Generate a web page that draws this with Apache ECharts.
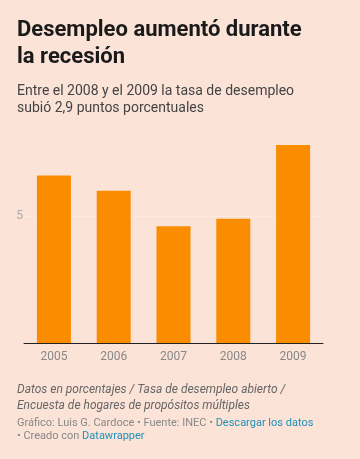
<!DOCTYPE html>
<html>
<head>
<meta charset="utf-8">
<script src="https://cdn.jsdelivr.net/npm/echarts@6/dist/echarts.min.js"></script>
<style>
html,body{margin:0;padding:0;background:#fce3d8;}
#c{width:360px;height:459px;}
</style>
</head>
<body>
<div id="c"></div>
<script>
const years = ['2005', '2006', '2007', '2008', '2009'];
const unemployment = [6.6, 6.0, 4.6, 4.9, 7.8];
const yTickLabels = [5];

const chart = echarts.init(document.getElementById('c'), null, {renderer: 'canvas'});
const FONT = 'Roboto, "Noto Sans", sans-serif';
chart.setOption({
  backgroundColor: '#fce3d8',
  animation: false,
  title: [
    {
      text: 'Desempleo aumentó durante\nla recesión',
      left: 17, top: 17, padding: 0,
      textStyle: {fontFamily: FONT, fontSize: 22, fontWeight: 'bold', color: '#1a1a1a', lineHeight: 27}
    },
    {
      text: 'Entre el 2008 y el 2009 la tasa de desempleo\nsubió 2,9 puntos porcentuales',
      left: 17, top: 83, padding: 0,
      textStyle: {fontFamily: FONT, fontSize: 14, fontWeight: 'normal', color: '#444', lineHeight: 17}
    },
    {
      text: 'Datos en porcentajes / Tasa de desempleo abierto /\nEncuesta de hogares de propósitos múltiples',
      left: 17, top: 382, padding: 0,
      textStyle: {fontFamily: FONT, fontSize: 12, fontStyle: 'italic', fontWeight: 'normal', color: '#666', lineHeight: 16}
    },
    {
      text: 'Gráfico: Luis G. Cardoce • Fuente: INEC • {a|Descargar los datos}\n• Creado con {a|Datawrapper}',
      left: 17, top: 417, padding: 0,
      textStyle: {
        fontFamily: FONT, fontSize: 11, fontWeight: 'normal', color: '#888', lineHeight: 13,
        rich: {a: {fontFamily: FONT, fontSize: 11, color: '#1d91b8', lineHeight: 13}}
      }
    }
  ],
  grid: {left: 24, right: 37, top: 140, bottom: 116, containLabel: false},
  xAxis: {
    type: 'category',
    data: years,
    axisLine: {show: true, lineStyle: {color: '#222', width: 1}},
    axisTick: {show: false},
    axisLabel: {color: '#888', fontFamily: FONT, fontSize: 12, margin: 8}
  },
  yAxis: {
    type: 'value',
    min: 0, max: 8, interval: 5,
    axisLine: {show: false},
    axisTick: {show: false},
    splitLine: {show: false},
    axisLabel: {
      color: '#aaa', fontFamily: FONT, fontSize: 12, margin: 1,
      formatter: v => yTickLabels.includes(v) ? String(v) : ''
    }
  },
  series: [
    {
      type: 'line',
      data: [],
      z: 0,
      silent: true,
      markLine: {
        silent: true, symbol: 'none', z: 0,
        label: {show: false},
        lineStyle: {color: '#fde9e0', type: 'solid', width: 1},
        data: yTickLabels.map(v => ({yAxis: v}))
      }
    },
    {
      type: 'bar',
      data: unemployment,
      barWidth: 34,
      itemStyle: {color: '#fa8c00'},
      z: 2
    }
  ]
});
</script>
</body>
</html>
